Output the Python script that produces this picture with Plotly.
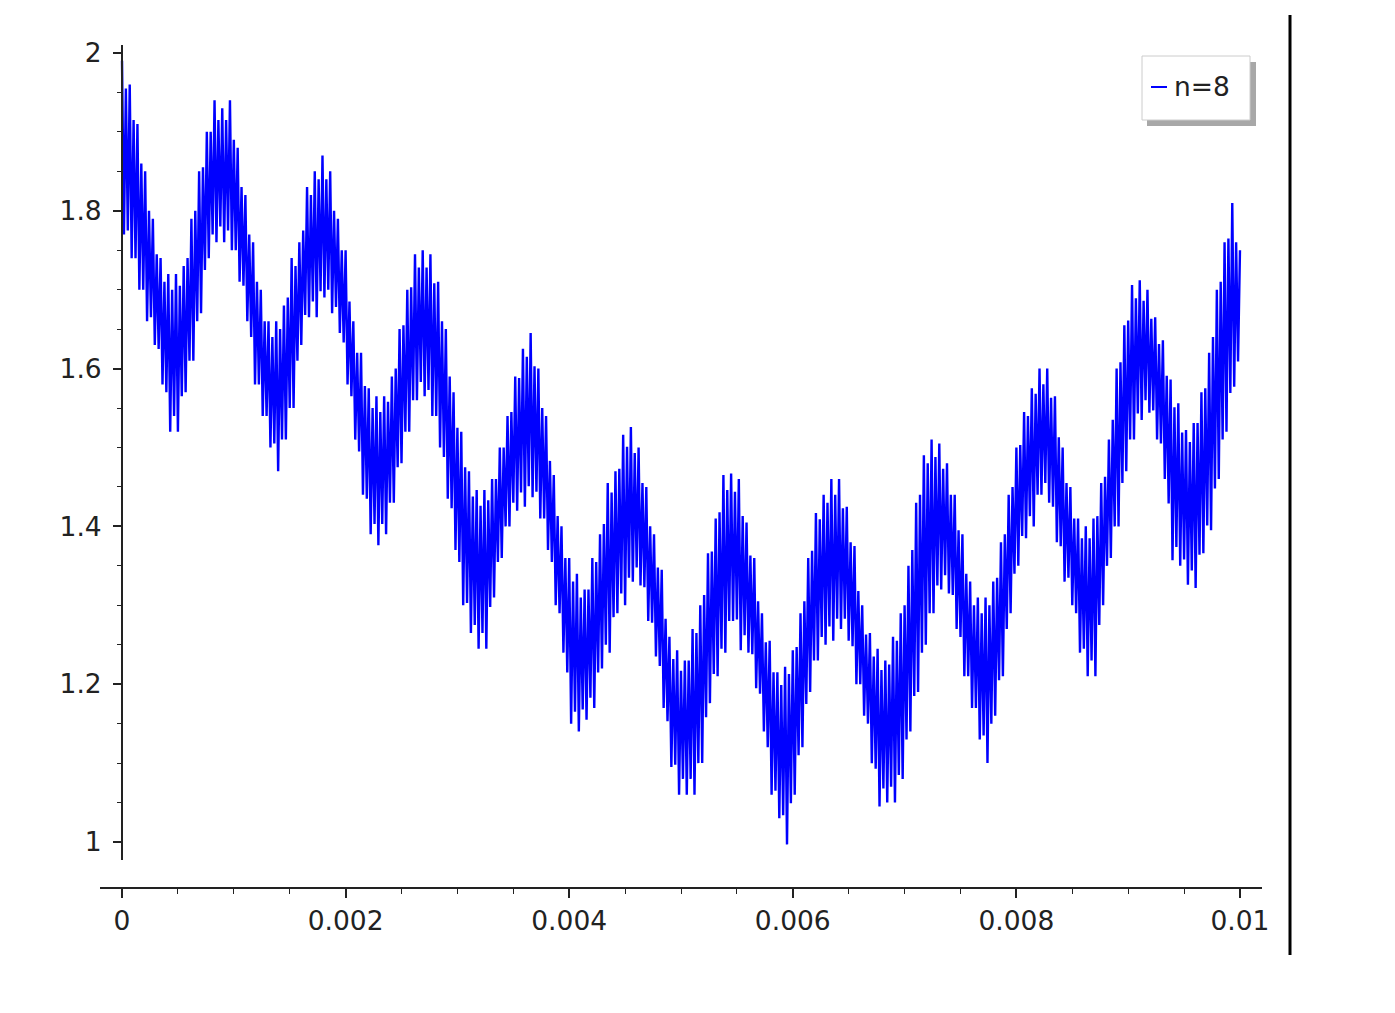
import numpy as np
import plotly.graph_objects as go

# Left to right (x from 0 to 0.01), about one entry per 7.7 px column.
# Top of the band at each column (tips of the spikes)
spike_tops = [1.99, 1.96, 1.91, 1.85, 1.79, 1.74, 1.72, 1.72, 1.73, 1.79,
              1.85, 1.90, 1.94, 1.93, 1.94, 1.88, 1.82, 1.76, 1.70, 1.66,
              1.66, 1.68, 1.74, 1.76, 1.83, 1.85, 1.87, 1.85, 1.79, 1.75,
              1.66, 1.62, 1.575, 1.565, 1.565, 1.59, 1.65, 1.70, 1.745, 1.75,
              1.745, 1.71, 1.65, 1.57, 1.52, 1.47, 1.446, 1.446, 1.46, 1.50,
              1.54, 1.59, 1.625, 1.645, 1.60, 1.54, 1.465, 1.40, 1.36, 1.34,
              1.32, 1.36, 1.39, 1.455, 1.47, 1.516, 1.526, 1.50, 1.45, 1.39,
              1.345, 1.26, 1.243, 1.23, 1.27, 1.30, 1.366, 1.41, 1.465, 1.467,
              1.46, 1.405, 1.36, 1.29, 1.255, 1.215, 1.222, 1.243, 1.29, 1.36,
              1.417, 1.44, 1.46, 1.46, 1.425, 1.375, 1.30, 1.265, 1.245, 1.23,
              1.26, 1.29, 1.35, 1.43, 1.49, 1.51, 1.505, 1.48, 1.44, 1.39,
              1.33, 1.31, 1.31, 1.33, 1.38, 1.44, 1.50, 1.545, 1.575, 1.60,
              1.60, 1.565, 1.50, 1.45, 1.41, 1.40, 1.41, 1.455, 1.51, 1.60,
              1.655, 1.706, 1.712, 1.70, 1.665, 1.636, 1.586, 1.556, 1.522, 1.531,
              1.57, 1.62, 1.70, 1.76, 1.81, 1.75]

# Bottom of the band at the same columns
trough_values = [1.77, 1.74, 1.70, 1.66, 1.63, 1.58, 1.52, 1.52, 1.57, 1.61,
                 1.67, 1.74, 1.76, 1.76, 1.75, 1.71, 1.66, 1.58, 1.54, 1.50,
                 1.47, 1.51, 1.55, 1.63, 1.665, 1.665, 1.69, 1.67, 1.645, 1.58,
                 1.51, 1.44, 1.39, 1.376, 1.39, 1.43, 1.48, 1.52, 1.56, 1.565,
                 1.54, 1.50, 1.435, 1.37, 1.30, 1.265, 1.245, 1.245, 1.31, 1.36,
                 1.40, 1.42, 1.425, 1.437, 1.41, 1.37, 1.30, 1.24, 1.15, 1.14,
                 1.155, 1.17, 1.22, 1.24, 1.29, 1.30, 1.33, 1.325, 1.28, 1.235,
                 1.17, 1.095, 1.06, 1.06, 1.06, 1.10, 1.176, 1.21, 1.24, 1.28,
                 1.243, 1.24, 1.195, 1.14, 1.06, 1.03, 0.997, 1.06, 1.12, 1.19,
                 1.23, 1.25, 1.255, 1.27, 1.255, 1.20, 1.16, 1.10, 1.045, 1.05,
                 1.05, 1.08, 1.14, 1.19, 1.25, 1.29, 1.32, 1.315, 1.27, 1.21,
                 1.17, 1.13, 1.10, 1.16, 1.21, 1.29, 1.35, 1.385, 1.40, 1.44,
                 1.43, 1.38, 1.33, 1.30, 1.24, 1.21, 1.21, 1.30, 1.36, 1.40,
                 1.47, 1.51, 1.535, 1.544, 1.51, 1.46, 1.357, 1.35, 1.326, 1.322,
                 1.366, 1.395, 1.46, 1.52, 1.577]

# Top of the (slightly shorter) strip half way between two columns
mid_tops = [1.955, 1.915, 1.86, 1.80, 1.745, 1.71, 1.70, 1.705, 1.74, 1.80,
            1.855, 1.90, 1.915, 1.915, 1.89, 1.83, 1.77, 1.71, 1.66, 1.64,
            1.65, 1.69, 1.73, 1.775, 1.82, 1.84, 1.84, 1.80, 1.75, 1.685,
            1.62, 1.578, 1.55, 1.545, 1.558, 1.60, 1.655, 1.703, 1.728, 1.728,
            1.708, 1.66, 1.59, 1.525, 1.475, 1.438, 1.426, 1.433, 1.46, 1.50,
            1.545, 1.588, 1.615, 1.603, 1.55, 1.483, 1.413, 1.36, 1.33, 1.31,
            1.32, 1.355, 1.403, 1.443, 1.473, 1.501, 1.493, 1.455, 1.40, 1.348,
            1.283, 1.232, 1.217, 1.23, 1.265, 1.313, 1.368, 1.418, 1.446, 1.444,
            1.413, 1.363, 1.305, 1.253, 1.215, 1.199, 1.213, 1.247, 1.305, 1.369,
            1.409, 1.43, 1.44, 1.423, 1.38, 1.318, 1.263, 1.235, 1.218, 1.225,
            1.255, 1.30, 1.37, 1.44, 1.48, 1.488, 1.473, 1.44, 1.395, 1.34,
            1.30, 1.29, 1.30, 1.335, 1.39, 1.45, 1.503, 1.54, 1.568, 1.58,
            1.563, 1.513, 1.455, 1.41, 1.385, 1.385, 1.413, 1.463, 1.535, 1.608,
            1.661, 1.689, 1.686, 1.663, 1.631, 1.591, 1.551, 1.519, 1.507, 1.531,
            1.575, 1.64, 1.71, 1.765, 1.76]

# Bottom of that half-way strip
mid_bottoms = [1.775, 1.74, 1.70, 1.665, 1.625, 1.57, 1.54, 1.565, 1.61, 1.66,
               1.725, 1.77, 1.78, 1.775, 1.75, 1.705, 1.64, 1.58, 1.54, 1.505,
               1.51, 1.55, 1.61, 1.668, 1.685, 1.698, 1.70, 1.678, 1.633, 1.565,
               1.495, 1.435, 1.403, 1.403, 1.43, 1.475, 1.52, 1.56, 1.583, 1.573,
               1.54, 1.488, 1.423, 1.355, 1.303, 1.275, 1.265, 1.298, 1.355, 1.40,
               1.43, 1.443, 1.451, 1.444, 1.41, 1.355, 1.29, 1.215, 1.165, 1.168,
               1.183, 1.215, 1.25, 1.285, 1.315, 1.335, 1.348, 1.323, 1.278, 1.223,
               1.153, 1.098, 1.08, 1.08, 1.10, 1.158, 1.213, 1.245, 1.28, 1.282,
               1.262, 1.238, 1.188, 1.12, 1.065, 1.034, 1.049, 1.11, 1.175, 1.23,
               1.26, 1.273, 1.283, 1.283, 1.248, 1.20, 1.15, 1.093, 1.068, 1.07,
               1.085, 1.13, 1.185, 1.24, 1.29, 1.325, 1.338, 1.313, 1.26, 1.21,
               1.17, 1.135, 1.15, 1.205, 1.27, 1.34, 1.388, 1.413, 1.44, 1.455,
               1.425, 1.375, 1.335, 1.29, 1.245, 1.23, 1.275, 1.35, 1.40, 1.455,
               1.51, 1.543, 1.56, 1.547, 1.505, 1.429, 1.374, 1.358, 1.344, 1.364,
               1.401, 1.448, 1.51, 1.569, 1.609]

x_start, x_end = 0.0, 0.01
x_tick_values = [0, 0.002, 0.004, 0.006, 0.008, 0.01]
x_tick_labels = ["0", "0.002", "0.004", "0.006", "0.008", "0.01"]
y_tick_values = [1.0, 1.2, 1.4, 1.6, 1.8, 2.0]
y_tick_labels = ["1", "1.2", "1.4", "1.6", "1.8", "2"]
series_name = "n=8"

# put the readings in the order the curve visits them
y_vals = []
for i in range(len(trough_values)):
    y_vals += [spike_tops[i], trough_values[i], mid_tops[i], mid_bottoms[i]]
y_vals.append(spike_tops[-1])
x_vals = np.linspace(x_start, x_end, len(y_vals))

# page has an 8px body margin; work in page pixels and convert
W, H = 1379, 997
OFF = 8
left_px, right_px, top_px, bottom_px = 100, 1262, 45, 888   # page coords of plot box
ml = left_px - OFF
mt = top_px - OFF
mr = W - (right_px - OFF)
mb = H - (bottom_px - OFF)
pw = right_px - left_px
ph = bottom_px - top_px


def px(p):
    return (p - left_px) / pw


def py(p):
    return (bottom_px - p) / ph


FONT = "DejaVu Sans"
AX = "#222222"
FS = 26.5

fig = go.Figure()
fig.add_trace(go.Scatter(x=x_vals, y=y_vals, mode="lines", name=series_name,
                         line=dict(color="#0000ff", width=2.4, simplify=False),
                         showlegend=False))

shapes = [
    # legend shadow
    dict(type="rect", xref="paper", yref="paper",
         x0=px(1147), x1=px(1256), y0=py(126), y1=py(62),
         fillcolor="#a8a8a8", line=dict(width=0), layer="above"),
    # legend box
    dict(type="rect", xref="paper", yref="paper",
         x0=px(1142), x1=px(1250), y0=py(120), y1=py(56),
         fillcolor="white", line=dict(color="#cccccc", width=1), layer="above"),
    # legend line sample
    dict(type="line", xref="paper", yref="paper",
         x0=px(1151), x1=px(1167), y0=py(87), y1=py(87),
         line=dict(color="#0000ff", width=2), layer="above"),
    # right frame edge of the picture
    dict(type="line", xref="paper", yref="paper",
         x0=px(1290), x1=px(1290), y0=py(15), y1=py(955),
         line=dict(color="black", width=3)),
]

annotations = [
    dict(text=series_name, xref="paper", yref="paper",
         x=px(1172), y=py(87), xanchor="left", yanchor="middle",
         showarrow=False, font=dict(family=FONT, size=FS, color="#222222")),
]

fig.update_layout(
    width=W, height=H,
    margin=dict(l=ml, r=mr, t=mt, b=mb, pad=0),
    paper_bgcolor="white", plot_bgcolor="white",
    font=dict(family=FONT, size=FS, color="#222222"),
    showlegend=False,
    shapes=shapes,
    annotations=annotations,
    xaxis=dict(range=[-0.000197, 0.010197], domain=[0, 1],
               anchor="free", position=0,
               showgrid=False, zeroline=False,
               showline=True, linecolor=AX, linewidth=2,
               tickmode="array", tickvals=x_tick_values, ticktext=x_tick_labels,
               ticks="outside", ticklen=9, tickwidth=1.5, tickcolor=AX,
               minor=dict(dtick=0.0005, tick0=0, ticks="outside", ticklen=5,
                          tickwidth=1.2, tickcolor=AX, showgrid=False),
               tickfont=dict(family=FONT, size=FS, color="#222222")),
    yaxis=dict(range=[0.9772, 2.0101], domain=[py(860), 1],
               anchor="free", position=px(122),
               showgrid=False, zeroline=False,
               showline=True, linecolor=AX, linewidth=2,
               tickmode="array", tickvals=y_tick_values, ticktext=y_tick_labels,
               ticks="outside", ticklen=8, tickwidth=1.5, tickcolor=AX,
               ticklabelstandoff=6,
               minor=dict(dtick=0.05, tick0=0, ticks="outside", ticklen=4,
                          tickwidth=1.2, tickcolor=AX, showgrid=False),
               tickfont=dict(family=FONT, size=FS, color="#222222")),
)

fig.write_html("out.html")
